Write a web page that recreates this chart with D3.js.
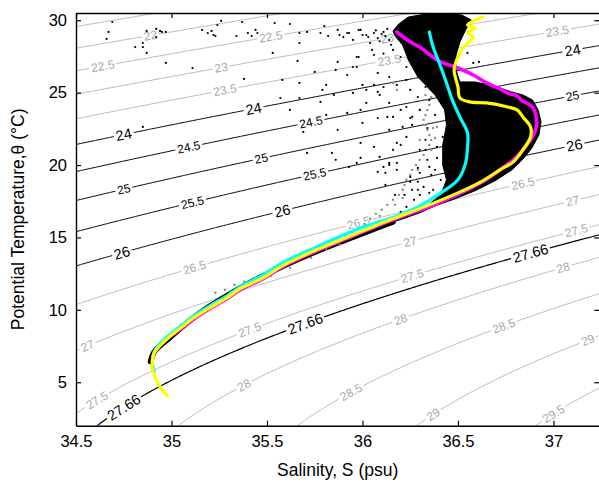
<!DOCTYPE html>
<html>
<head>
<meta charset="utf-8">
<script src="https://cdn.jsdelivr.net/npm/d3@7"></script>
<style>
body { margin: 0; background: #fff; }
text { font-family: "Liberation Sans", Arial, sans-serif; }
</style>
</head>
<body>
<div class="graph"></div>
<script>
/*---------- DATA ----------*/

// density (sigma-theta) levels drawn as contours
const levels = [21.5, 22, 22.5, 23, 23.5, 24, 24.5, 25, 25.5, 26, 26.5, 27, 27.5, 27.66, 28, 28.5, 29, 29.5];
const blackLevels = [24, 24.5, 25, 25.5, 26, 27.66];
const bigLabelLevels = [24, 26, 27.66];

// contour labels: [level, salinity where the label sits]
const labelSpots = [
  [22, 34.89],
  [22.5, 34.64], [22.5, 35.52],
  [23, 35.26], [23, 36.13],
  [23.5, 35.28], [23.5, 36.14], [23.5, 37.02],
  [24, 34.75], [24, 35.43], [24, 37.10],
  [24.5, 35.09], [24.5, 35.73],
  [25, 34.75], [25, 35.47], [25, 37.10],
  [25.5, 35.11], [25.5, 35.75],
  [26, 34.74], [26, 35.58], [26, 37.11],
  [26.5, 35.12], [26.5, 35.98], [26.5, 36.84],
  [27, 34.56], [27, 36.25], [27, 37.10],
  [27.5, 34.61], [27.5, 35.41], [27.5, 36.26], [27.5, 37.12],
  [27.66, 34.75], [27.66, 35.70], [27.66, 36.88],
  [28, 35.38], [28, 36.20], [28, 37.05],
  [28.5, 35.94], [28.5, 36.74],
  [29, 36.37], [29, 37.18],
  [29.5, 37.00]
];

const xTicks = [34.5, 35, 35.5, 36, 36.5, 37];
const yTicks = [5, 10, 15, 20, 25, 30];

// profiles [S, theta]
const magentaLine = [[36.18,29.19],[36.25,28.50],[36.30,28.15],[36.34,27.74],[36.41,27.12],[36.50,26.70],[36.58,26.22],[36.65,25.67],[36.72,25.26],[36.77,24.91],[36.81,24.77],[36.83,24.50],[36.89,24.01],[36.91,23.32],[36.91,22.63],[36.89,21.94],[36.84,21.05],[36.79,20.36],[36.74,19.87],[36.67,19.18],[36.58,18.49],[36.47,17.80],[36.35,17.11],[36.23,16.56],[36.16,16.22],[36.04,15.60],[35.94,15.04],[35.76,14.08],[35.58,12.97],[35.48,12.15],[35.36,11.39],[35.29,10.77],[35.20,10.08],[35.11,9.32],[35.05,8.70],[34.99,8.14],[34.94,7.59],[34.91,7.11],[34.90,6.56]];

const cyanLine = [[36.35,29.19],[36.37,28.15],[36.41,26.77],[36.44,25.67],[36.47,24.50],[36.51,23.32],[36.55,22.22],[36.55,21.25],[36.54,20.15],[36.50,18.98],[36.41,18.08],[36.29,17.11],[36.18,16.49],[36.04,15.87],[35.94,15.39],[35.76,14.35],[35.58,13.25],[35.48,12.42],[35.36,11.59],[35.29,10.97],[35.20,10.28],[35.11,9.52],[35.05,8.90],[34.99,8.28],[34.94,7.66],[34.91,7.11],[34.90,6.42],[34.91,5.73]];

const yellowLine = [[36.63,30.22],[36.55,29.67],[36.59,29.47],[36.55,29.12],[36.58,28.84],[36.53,28.15],[36.50,27.46],[36.48,26.57],[36.50,25.39],[36.51,24.63],[36.56,24.36],[36.65,24.29],[36.76,24.01],[36.81,23.81],[36.84,23.32],[36.88,22.63],[36.88,21.94],[36.84,21.05],[36.79,20.22],[36.72,19.67],[36.62,18.84],[36.50,18.08],[36.35,17.25],[36.23,16.63],[36.16,16.29],[36.04,15.66],[35.94,15.11],[35.76,14.15],[35.58,13.04],[35.48,12.21],[35.36,11.46],[35.29,10.83],[35.20,10.14],[35.11,9.39],[35.05,8.77],[34.99,8.14],[34.94,7.52],[34.91,7.04],[34.90,6.49],[34.90,5.87],[34.92,5.18],[34.95,4.49],[34.98,4.07]];

// dense part of the black station cloud (outline)
const denseCloud = [[36.16,29.26],[36.19,29.74],[36.24,30.22],[36.33,30.43],[36.43,30.50],[36.52,30.36],[36.57,30.02],[36.54,29.33],[36.51,28.50],[36.49,27.60],[36.49,26.57],[36.51,25.74],[36.59,25.74],[36.69,25.46],[36.78,25.05],[36.84,24.84],[36.89,24.50],[36.92,23.81],[36.935,22.98],[36.924,22.08],[36.887,21.18],[36.846,20.49],[36.783,19.67],[36.694,18.91],[36.589,18.22],[36.484,17.67],[36.38,17.18],[36.30,16.70],[36.22,16.33],[36.14,15.98],[36.13,16.22],[36.20,16.63],[36.33,17.11],[36.41,17.94],[36.44,18.98],[36.42,20.01],[36.42,21.39],[36.44,22.77],[36.43,23.81],[36.38,24.84],[36.29,26.08],[36.24,27.26],[36.21,28.29],[36.17,28.91]];

// black stations packed along the thermocline
const denseBand = [[36.16,16.08],[35.94,14.97],[35.67,13.53],[35.41,11.87],[35.15,9.80],[34.99,8.07],[34.91,7.11],[34.89,6.42]];

// scattered black stations
const blackDots = [[34.69,29.88],[34.67,29.19],[34.66,28.71],[34.81,28.15],[34.85,28.43],[34.85,28.15],[34.87,27.74],[34.87,29.26],[34.92,29.40],[34.94,29.26],[34.95,29.19],[34.97,29.19],[34.92,28.84],[34.97,27.05],[35.11,26.70],[35.16,29.33],[35.19,29.12],[35.21,29.26],[35.22,28.98],[35.23,28.91],[35.24,29.67],[35.26,29.95],[35.34,28.91],[35.37,29.88],[35.38,25.95],[35.40,29.12],[35.42,28.91],[35.44,29.33],[35.45,29.12],[34.85,22.63],[35.54,29.81],[35.62,29.74],[35.67,29.12],[35.71,29.19],[35.78,29.12],[35.80,29.60],[35.82,28.91],[35.87,29.33],[35.88,28.98],[35.90,28.84],[35.93,29.12],[35.98,29.33],[36.00,28.98],[36.03,28.84],[36.06,29.12],[36.04,28.43],[35.67,28.43],[35.53,27.74],[35.66,27.19],[35.87,27.12],[35.98,27.46],[35.86,26.57],[35.58,25.88],[35.67,25.67],[35.92,26.22],[35.97,26.77],[36.00,25.53],[35.57,24.63],[35.67,24.63],[35.78,24.36],[35.85,24.84],[35.95,24.98],[36.08,25.05],[36.11,25.39],[35.62,23.81],[35.81,23.46],[35.92,23.60],[36.00,22.91],[36.08,23.25],[36.13,23.32],[36.02,24.29],[35.69,22.29],[35.87,22.43],[36.21,22.63],[35.81,25.53],[35.75,26.43],[35.79,25.19],[35.92,29.12],[35.95,28.64],[35.99,29.33],[36.02,28.98],[36.08,28.77],[36.11,29.19],[36.14,28.64],[35.97,27.46],[36.05,27.95],[36.16,27.95],[36.20,27.46],[35.95,26.77],[36.08,26.36],[36.14,26.08],[36.23,26.77],[36.23,25.88],[36.18,25.53],[36.02,25.19],[36.09,24.84],[36.25,25.19],[36.29,24.70],[36.14,24.29],[36.23,24.01],[36.30,23.81],[36.16,23.32],[36.26,23.32],[35.99,23.81],[36.06,25.53],[36.35,24.50],[36.33,25.39],[36.30,26.08],[36.20,23.81],[36.25,23.25],[36.26,22.77],[36.14,22.43],[36.23,21.94],[36.20,21.39],[36.14,20.15],[36.18,19.67],[36.25,19.18],[36.29,18.84],[36.29,18.29],[36.32,18.49],[36.35,19.87],[36.39,20.49],[36.39,21.25],[36.42,21.94],[36.23,17.11],[36.20,16.77],[35.99,21.53],[36.06,21.25],[36.18,21.53],[36.16,21.05],[35.84,20.84],[35.86,20.36],[35.71,20.84],[35.99,20.49],[36.09,20.56],[36.11,19.87],[36.18,20.15],[36.08,19.53],[36.12,19.46],[36.14,20.01],[36.29,19.80],[36.30,19.46],[36.25,18.84],[36.26,18.29],[36.35,18.08],[36.37,18.29],[35.97,20.15],[35.93,19.87],[36.55,27.74],[36.58,27.05],[36.61,27.12],[36.33,21.05],[36.36,19.32],[36.34,22.56],[36.38,23.46],[36.33,21.74],[36.30,21.05],[36.34,20.36],[36.38,19.67],[36.41,18.98],[36.27,17.60],[36.30,17.94],[36.12,18.63],[36.17,17.94],[36.22,17.94],[36.10,29.05],[36.12,28.90],[36.07,29.30],[36.13,29.40],[36.09,28.55],[36.15,28.30],[36.11,27.70],[36.06,27.60]];

// gray stations
const grayDots = [[35.23,11.18],[35.28,11.39],[35.33,11.73],[35.38,11.94],[35.44,12.21],[35.49,12.49],[35.54,12.77],[35.59,12.97],[35.64,13.32],[35.67,13.53],[35.71,13.80],[35.75,14.08],[35.79,14.28],[35.83,14.56],[35.87,14.77],[35.91,15.11],[35.95,15.39],[35.98,15.66],[36.01,15.94],[36.04,16.29],[36.07,16.63],[36.10,16.91],[36.13,17.25],[36.16,17.60],[36.19,17.94],[36.21,18.29],[36.22,18.63],[36.23,18.98],[36.25,19.32],[36.26,19.67],[36.28,20.01],[36.30,20.36],[36.32,20.70],[36.34,21.05],[36.35,21.39],[36.36,21.74],[36.35,22.08],[36.34,22.43],[36.33,22.77],[36.32,23.12],[36.33,23.46],[36.34,23.81],[36.35,24.15],[36.34,24.50],[36.33,24.84],[35.31,11.25],[35.41,11.80],[35.52,12.35],[35.62,12.90],[35.73,13.59],[35.81,14.22],[35.88,14.49],[35.96,15.11],[36.05,15.94],[36.09,16.49],[36.17,17.25],[36.21,17.73],[36.29,19.67],[36.36,21.05],[36.38,21.87],[36.30,21.74],[36.37,22.56],[36.39,22.98],[36.30,23.81],[36.36,24.70],[36.16,25.67],[36.18,25.19],[36.39,22.63]];

/*---------- D3 STUFF ----------*/

const SIZE = {X: 599, Y: 483};
const PLOT = {LEFT: 76, RIGHT: 599.3, TOP: 13, BOTTOM: 425.7};

const svg = d3.select(".graph").append("svg")
    .attr("width", SIZE.X)
    .attr("height", SIZE.Y);

// scales
const x = d3.scaleLinear().domain([34.5, 37.24]).range([PLOT.LEFT, PLOT.RIGHT]);
const y = d3.scaleLinear().domain([2, 30.5]).range([PLOT.BOTTOM, PLOT.TOP]);

// UNESCO 1981 density at surface pressure, minus 1000
function sigma(S, t) {
    const rw = 999.842594 + 6.793952e-2*t - 9.095290e-3*t*t + 1.001685e-4*t*t*t
             - 1.120083e-6*t*t*t*t + 6.536332e-9*t*t*t*t*t;
    const A = 0.824493 - 4.0899e-3*t + 7.6438e-5*t*t - 8.2467e-7*t*t*t + 5.3875e-9*t*t*t*t;
    const B = -5.72466e-3 + 1.0227e-4*t - 1.6546e-6*t*t;
    return rw + A*S + B*Math.pow(S, 1.5) + 4.8314e-4*S*S - 1000;
}

// theta on a given isopycnal for salinity S (bisection)
function thetaOn(level, S) {
    let lo = -2, hi = 40;
    for (let k = 0; k < 50; k++) {
        const mid = (lo + hi) / 2;
        if (sigma(S, mid) > level) lo = mid; else hi = mid;
    }
    return (lo + hi) / 2;
}

// clip everything to the axes box
svg.append("defs").append("clipPath").attr("id", "clip")
  .append("rect")
    .attr("x", PLOT.LEFT).attr("y", PLOT.TOP)
    .attr("width", PLOT.RIGHT - PLOT.LEFT)
    .attr("height", PLOT.BOTTOM - PLOT.TOP);

const plot = svg.append("g").attr("clip-path", "url(#clip)");

// density grid, a bit larger than the axes so the grid edge is clipped away
const NX = 340, NY = 330, S0 = 34.3, S1 = 37.6, T0 = 0.5, T1 = 32.5;
const dS = (S1 - S0) / (NX - 1), dT = (T1 - T0) / (NY - 1);
const grid = new Array(NX * NY);
for (let j = 0; j < NY; j++)
    for (let i = 0; i < NX; i++)
        grid[j * NX + i] = sigma(S0 + i * dS, T0 + j * dT);

const contours = d3.contours().size([NX, NY]).thresholds(levels)(grid);

const toScreen = d3.geoTransform({
    point: function(px, py) {
        this.stream.point(x(S0 + (px - 0.5) * dS), y(T0 + (py - 0.5) * dT));
    }
});
const contourPath = d3.geoPath(toScreen);

const isBlack = v => blackLevels.includes(v);
const GRAY = "#b9b9b9";

plot.append("g").selectAll("path")
  .data(contours)
  .join("path")
    .attr("d", contourPath)
    .attr("fill", "none")
    .attr("stroke", d => isBlack(d.value) ? "#000" : GRAY)
    .attr("stroke-width", d => d.value === 27.66 ? 1.2 : 1);

// contour labels (white gap + rotated text)
const labels = plot.append("g").selectAll("g")
  .data(labelSpots)
  .join("g")
    .attr("transform", d => {
        const [lev, S] = d;
        const px = x(S), py = y(thetaOn(lev, S));
        const ax = x(S + 0.02) - x(S - 0.02);
        const ay = y(thetaOn(lev, S + 0.02)) - y(thetaOn(lev, S - 0.02));
        const ang = Math.atan2(ay, ax) * 180 / Math.PI;
        return `translate(${px},${py}) rotate(${ang})`;
    });

labels.each(function(d) {
    const g = d3.select(this);
    const big = bigLabelLevels.includes(d[0]);
    const fs = big ? 14.5 : 12;
    const t = g.append("text")
        .attr("text-anchor", "middle")
        .attr("dy", "0.35em")
        .attr("font-size", fs)
        .attr("fill", isBlack(d[0]) ? "#000" : "#a9a9a9")
        .text(d[0]);
    const w = t.node().getComputedTextLength();
    g.insert("rect", "text")
        .attr("x", -w / 2 - 2).attr("y", -fs * 0.42)
        .attr("width", w + 4).attr("height", fs * 0.84)
        .attr("fill", "#fff");
});

// station data
plot.append("path")
    .attr("d", d3.line().x(d => x(d[0])).y(d => y(d[1]))(denseCloud) + "Z")
    .attr("fill", "#000")
    .attr("stroke", "#000")
    .attr("stroke-width", 1);

plot.append("path")
    .attr("d", d3.line().x(d => x(d[0])).y(d => y(d[1])).curve(d3.curveCatmullRom)(denseBand))
    .attr("fill", "none")
    .attr("stroke", "#000")
    .attr("stroke-width", 5.5)
    .attr("stroke-linecap", "round");

plot.append("g").selectAll("circle")
  .data(grayDots)
  .join("circle")
    .attr("cx", d => x(d[0]))
    .attr("cy", d => y(d[1]))
    .attr("r", 1.2)
    .attr("fill", "#8c8c8c");

plot.append("g").selectAll("circle")
  .data(blackDots)
  .join("circle")
    .attr("cx", d => x(d[0]))
    .attr("cy", d => y(d[1]))
    .attr("r", 1.1)
    .attr("fill", "#000");

// mean profiles
const profile = d3.line().x(d => x(d[0])).y(d => y(d[1])).curve(d3.curveCatmullRom);
[[magentaLine, "#ff00ff", 3.6], [cyanLine, "#00ffff", 3.2], [yellowLine, "#ffff00", 3.2]].forEach(([data, col, w]) => {
    plot.append("path")
        .attr("d", profile(data))
        .attr("fill", "none")
        .attr("stroke", col)
        .attr("stroke-width", w)
        .attr("stroke-linejoin", "round")
        .attr("stroke-linecap", "round");
});

// axes, MATLAB style: box with inward ticks
const xAxis = svg.append("g")
    .attr("transform", `translate(0,${PLOT.BOTTOM})`)
    .call(d3.axisBottom(x).tickValues(xTicks).tickSizeInner(-5).tickSizeOuter(0).tickPadding(10).tickFormat(d3.format("")));
const xAxisTop = svg.append("g")
    .attr("transform", `translate(0,${PLOT.TOP})`)
    .call(d3.axisTop(x).tickValues(xTicks).tickSizeInner(-5).tickSizeOuter(0).tickFormat(""));
const yAxis = svg.append("g")
    .attr("transform", `translate(${PLOT.LEFT},0)`)
    .call(d3.axisLeft(y).tickValues(yTicks).tickSizeInner(-5).tickSizeOuter(0).tickPadding(9));
const yAxisRight = svg.append("g")
    .attr("transform", `translate(${PLOT.RIGHT},0)`)
    .call(d3.axisRight(y).tickValues(yTicks).tickSizeInner(-5).tickSizeOuter(0).tickFormat(""));

svg.selectAll(".domain").attr("stroke", "#000").attr("stroke-width", 1.4);
svg.selectAll(".tick line").attr("stroke", "#000").attr("stroke-width", 1.2);
svg.selectAll(".tick text")
    .attr("font-family", "'Liberation Sans', Arial, sans-serif")
    .attr("font-size", 16.5)
    .attr("fill", "#000");

// axis titles
svg.append("text")
    .attr("x", (PLOT.LEFT + PLOT.RIGHT) / 2)
    .attr("y", 476)
    .attr("text-anchor", "middle")
    .attr("font-size", 17.5)
    .text("Salinity, S (psu)");

svg.append("text")
    .attr("transform", `translate(24,${(PLOT.TOP + PLOT.BOTTOM) / 2}) rotate(-90)`)
    .attr("text-anchor", "middle")
    .attr("font-size", 17.5)
    .text("Potential Temperature,\u03b8 (\u00b0C)");
</script>
</body>
</html>
